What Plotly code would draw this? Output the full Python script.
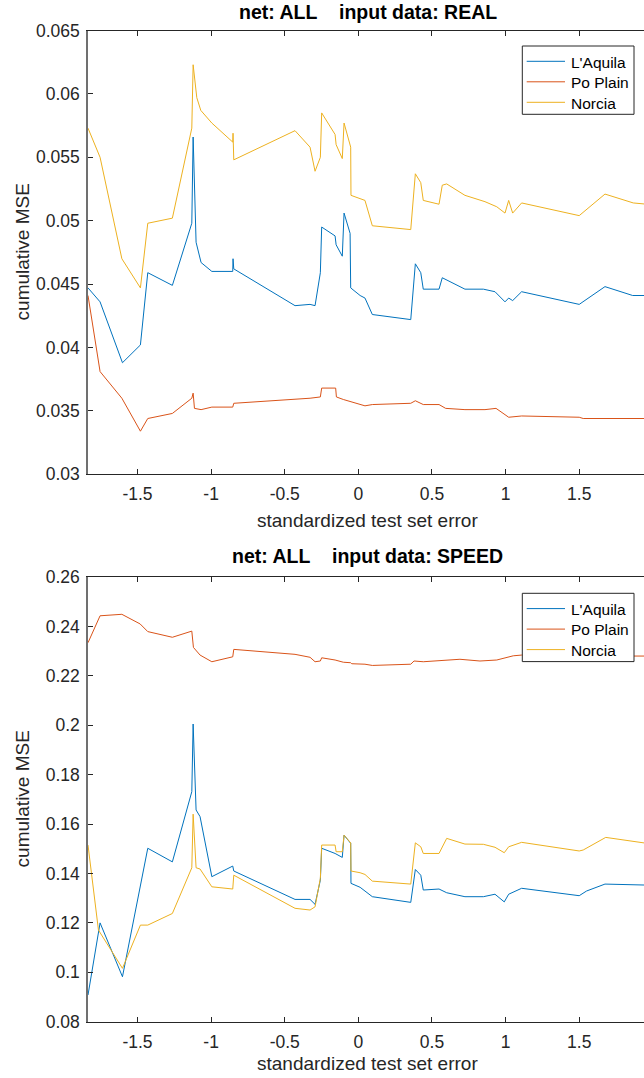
import plotly.graph_objects as go

# ---------------- data: top panel (input data: REAL) ----------------
real_aquila_x = [-1.836, -1.754, -1.602, -1.480, -1.430, -1.263, -1.131, -1.122, -1.102, -1.068,
                 -0.995, -0.853, -0.851, -0.846, -0.430, -0.328, -0.294, -0.258, -0.249, -0.158,
                 -0.151, -0.109, -0.097, -0.056, -0.052, 0.012, 0.045, 0.095, 0.356, 0.387,
                 0.424, 0.441, 0.548, 0.570, 0.724, 0.849, 0.928, 0.996, 1.021, 1.048,
                 1.109, 1.500, 1.675, 1.863, 1.960]
real_aquila_y = [0.0447, 0.0436, 0.0388, 0.0402, 0.0459, 0.0449, 0.0498, 0.0566, 0.0483, 0.0467,
                 0.0460, 0.0460, 0.0470, 0.0462, 0.0433, 0.0434, 0.0433, 0.0459, 0.0495, 0.0488,
                 0.0481, 0.0472, 0.0506, 0.0490, 0.0447, 0.0441, 0.0439, 0.0426, 0.0422, 0.0466,
                 0.0459, 0.0446, 0.0446, 0.0455, 0.0446, 0.0446, 0.0444, 0.0436, 0.0439, 0.0437,
                 0.0444, 0.0434, 0.0448, 0.0441, 0.0441]

real_po_x = [-1.836, -1.754, -1.606, -1.480, -1.430, -1.263, -1.131, -1.122, -1.113, -1.068,
             -0.995, -0.853, -0.846, -0.430, -0.328, -0.258, -0.249, -0.154, -0.149, -0.102,
             0.045, 0.095, 0.356, 0.387, 0.441, 0.548, 0.593, 0.724, 0.860, 0.935,
             0.984, 1.021, 1.109, 1.500, 1.527, 1.960]
real_po_y = [0.0441, 0.0381, 0.0360, 0.0334, 0.0344, 0.0348, 0.0360, 0.0364, 0.0352, 0.0351,
             0.0353, 0.0353, 0.0356, 0.0359, 0.0360, 0.0361, 0.0368, 0.0368, 0.0361, 0.0359,
             0.0354, 0.0355, 0.0356, 0.0358, 0.0355, 0.0355, 0.0352, 0.0351, 0.0351, 0.0352,
             0.0348, 0.0345, 0.0346, 0.0345, 0.0344, 0.0344]

real_norcia_x = [-1.836, -1.754, -1.606, -1.480, -1.430, -1.263, -1.131, -1.122, -1.097, -1.070,
                 -0.995, -0.853, -0.851, -0.846, -0.430, -0.328, -0.294, -0.258, -0.249, -0.158,
                 -0.151, -0.109, -0.097, -0.052, -0.050, 0.045, 0.095, 0.356, 0.387, 0.424,
                 0.441, 0.548, 0.570, 0.600, 0.724, 0.860, 0.940, 0.996, 1.021, 1.048,
                 1.109, 1.500, 1.675, 1.867, 1.960]
real_norcia_y = [0.0573, 0.0550, 0.0470, 0.0447, 0.0498, 0.0502, 0.0573, 0.0623, 0.0597, 0.0587,
                 0.0577, 0.0562, 0.0569, 0.0548, 0.0571, 0.0558, 0.0539, 0.0550, 0.0585, 0.0568,
                 0.0560, 0.0549, 0.0577, 0.0558, 0.0520, 0.0516, 0.0496, 0.0493, 0.0537, 0.0530,
                 0.0516, 0.0513, 0.0528, 0.0529, 0.0520, 0.0515, 0.0511, 0.0506, 0.0516, 0.0506,
                 0.0514, 0.0504, 0.0521, 0.0514, 0.0513]

# ---------------- data: bottom panel (input data: SPEED) ----------------
speed_aquila_x = [-1.836, -1.754, -1.602, -1.430, -1.263, -1.131, -1.122, -1.102, -1.075, -0.995,
                  -0.853, -0.846, -0.430, -0.328, -0.294, -0.258, -0.249, -0.158, -0.109, -0.097,
                  -0.052, -0.050, 0.012, 0.045, 0.095, 0.356, 0.387, 0.424, 0.441, 0.548,
                  0.600, 0.724, 0.849, 0.928, 0.991, 1.021, 1.109, 1.500, 1.550, 1.675, 1.960]
speed_aquila_y = [0.0908, 0.1200, 0.0982, 0.1502, 0.1447, 0.1731, 0.2005, 0.1657, 0.1630, 0.1387,
                  0.1430, 0.1410, 0.1295, 0.1295, 0.1275, 0.1373, 0.1502, 0.1481, 0.1465, 0.1555,
                  0.1522, 0.1360, 0.1344, 0.1330, 0.1306, 0.1283, 0.1416, 0.1393, 0.1333, 0.1337,
                  0.1322, 0.1306, 0.1306, 0.1316, 0.1285, 0.1316, 0.1340, 0.1310, 0.1329, 0.1357, 0.1353]

speed_po_x = [-1.836, -1.754, -1.606, -1.482, -1.430, -1.263, -1.131, -1.120, -1.075, -0.995,
              -0.853, -0.846, -0.430, -0.328, -0.294, -0.258, -0.249, -0.158, -0.102, -0.052,
              -0.045, 0.045, 0.095, 0.356, 0.378, 0.441, 0.690, 0.826, 0.940, 0.996,
              1.052, 1.109, 1.500, 1.675, 1.872, 1.960]
speed_po_y = [0.2334, 0.2443, 0.2449, 0.2410, 0.2379, 0.2356, 0.2381, 0.2315, 0.2284, 0.2257,
              0.2277, 0.2307, 0.2287, 0.2275, 0.2257, 0.2260, 0.2273, 0.2264, 0.2255, 0.2253,
              0.2249, 0.2247, 0.2242, 0.2247, 0.2260, 0.2257, 0.2267, 0.2260, 0.2264, 0.2271,
              0.2281, 0.2284, 0.2284, 0.2282, 0.2280, 0.2280]

speed_norcia_x = [-1.836, -1.765, -1.602, -1.480, -1.430, -1.263, -1.131, -1.122, -1.102, -1.075,
                  -0.995, -0.853, -0.846, -0.430, -0.328, -0.294, -0.258, -0.249, -0.158, -0.151,
                  -0.109, -0.097, -0.052, -0.050, 0.012, 0.045, 0.095, 0.356, 0.387, 0.424,
                  0.441, 0.548, 0.600, 0.724, 0.849, 0.928, 0.991, 1.021, 1.109, 1.500,
                  1.527, 1.680, 1.960]
speed_norcia_y = [0.1515, 0.1171, 0.1016, 0.1191, 0.1191, 0.1238, 0.1423, 0.1640, 0.1423, 0.1418,
                  0.1346, 0.1337, 0.1393, 0.1259, 0.1252, 0.1265, 0.1380, 0.1515, 0.1515, 0.1488,
                  0.1488, 0.1555, 0.1524, 0.1410, 0.1403, 0.1396, 0.1369, 0.1357, 0.1524, 0.1508,
                  0.1481, 0.1481, 0.1542, 0.1519, 0.1518, 0.1506, 0.1484, 0.1508, 0.1526, 0.1491,
                  0.1495, 0.1546, 0.1522]

series_names = ["L'Aquila", "Po Plain", "Norcia"]
series_colors = ["#0072BD", "#D95319", "#EDB120"]

x_tickvals = [-1.5, -1.0, -0.5, 0.0, 0.5, 1.0, 1.5]
x_ticktext = ["-1.5", "-1", "-0.5", "0", "0.5", "1", "1.5"]
real_tickvals = [0.03, 0.035, 0.04, 0.045, 0.05, 0.055, 0.06, 0.065]
real_ticktext = ["0.03", "0.035", "0.04", "0.045", "0.05", "0.055", "0.06", "0.065"]
speed_tickvals = [0.08, 0.10, 0.12, 0.14, 0.16, 0.18, 0.20, 0.22, 0.24, 0.26]
speed_ticktext = ["0.08", "0.1", "0.12", "0.14", "0.16", "0.18", "0.2", "0.22", "0.24", "0.26"]

titles = ["net: ALL\u00a0\u00a0\u00a0\u00a0input data: REAL",
          "net: ALL\u00a0\u00a0\u00a0\u00a0input data: SPEED"]
x_label = "standardized test set error"
y_label = "cumulative MSE"

# ---------------- figure ----------------
W, H = 644, 1078
L = 88
FONT = "Liberation Sans, Arial, sans-serif"
AX = "#262626"

fig = go.Figure()
top = [(real_aquila_x, real_aquila_y), (real_po_x, real_po_y), (real_norcia_x, real_norcia_y)]
bot = [(speed_aquila_x, speed_aquila_y), (speed_po_x, speed_po_y), (speed_norcia_x, speed_norcia_y)]
for (xs, ys), nm, c in zip(top, series_names, series_colors):
    fig.add_trace(go.Scatter(x=xs, y=ys, mode="lines", name=nm, line=dict(color=c, width=1),
                             xaxis="x", yaxis="y", showlegend=False))
for (xs, ys), nm, c in zip(bot, series_names, series_colors):
    fig.add_trace(go.Scatter(x=xs, y=ys, mode="lines", name=nm, line=dict(color=c, width=1),
                             xaxis="x2", yaxis="y2", showlegend=False))


def pxx(p):
    return (p - L) / (W - L)


def pxy(p):
    return 1 - p / H


top_dom = [pxy(474.3), pxy(30.5)]
bot_dom = [pxy(1021.7), pxy(577.0)]
xr = [-1.836, 1.94]

xcommon = dict(range=xr, tickvals=x_tickvals, ticktext=x_ticktext, showgrid=False, zeroline=False,
               showline=True, linecolor=AX, linewidth=1, mirror="ticks", ticks="inside", ticklen=5,
               tickcolor=AX, tickfont=dict(family=FONT, size=17.5, color=AX), ticklabelstandoff=4,
               automargin=False, domain=[0, 1])
ycommon = dict(showgrid=False, zeroline=False, showline=True, linecolor="#707070", linewidth=1.5,
               mirror=False, ticks="inside", ticklen=5, tickcolor=AX,
               tickfont=dict(family=FONT, size=17.5, color=AX), ticklabelstandoff=3, automargin=False)

fig.update_layout(
    width=W, height=H, margin=dict(l=L, r=0, t=0, b=0),
    paper_bgcolor="white", plot_bgcolor="white",
    xaxis=dict(anchor="y", **xcommon),
    yaxis=dict(anchor="x", domain=top_dom, range=[0.03, 0.065], tickvals=real_tickvals,
               ticktext=real_ticktext, **ycommon),
    xaxis2=dict(anchor="y2", **xcommon),
    yaxis2=dict(anchor="x2", domain=bot_dom, range=[0.08, 0.26], tickvals=speed_tickvals,
                ticktext=speed_ticktext, **ycommon),
    showlegend=False,
)

cx = pxx(367.7)
ann = []
shapes = []
for t, yc in zip(titles, [12, 556]):
    ann.append(dict(text="<b>" + t + "</b>", x=cx, y=pxy(yc), xref="paper", yref="paper",
                    xanchor="center", yanchor="middle", showarrow=False,
                    font=dict(family=FONT, size=19.5, color="#000")))
for yc in [520, 1063]:
    ann.append(dict(text=x_label, x=cx, y=pxy(yc), xref="paper", yref="paper",
                    xanchor="center", yanchor="middle", showarrow=False,
                    font=dict(family=FONT, size=19, color=AX)))
for yc in [252.4, 799.4]:
    ann.append(dict(text=y_label, x=pxx(22), y=pxy(yc), xref="paper", yref="paper",
                    xanchor="center", yanchor="middle", showarrow=False, textangle=-90,
                    font=dict(family=FONT, size=19, color=AX)))

# legends (MATLAB-style boxed legend in the north-east corner of each panel)
for box_top in [46.0, 593.3]:
    shapes.append(dict(type="rect", xref="paper", yref="paper", layer="above",
                       x0=pxx(522.3), x1=pxx(634.0), y0=pxy(box_top + 68.3), y1=pxy(box_top),
                       fillcolor="white", line=dict(color=AX, width=1)))
    for i, (nm, c) in enumerate(zip(series_names, series_colors)):
        yy = box_top + 15.3 + 20.5 * i
        shapes.append(dict(type="line", xref="paper", yref="paper", layer="above",
                           x0=pxx(526.7), x1=pxx(565.0), y0=pxy(yy), y1=pxy(yy),
                           line=dict(color=c, width=1)))
        ann.append(dict(text=nm, x=pxx(569.3), y=pxy(yy + 0.7), xref="paper", yref="paper",
                        xanchor="left", yanchor="middle", showarrow=False,
                        font=dict(family=FONT, size=15.5, color="#000")))

fig.update_layout(annotations=ann, shapes=shapes)

fig.write_html("out.html")
